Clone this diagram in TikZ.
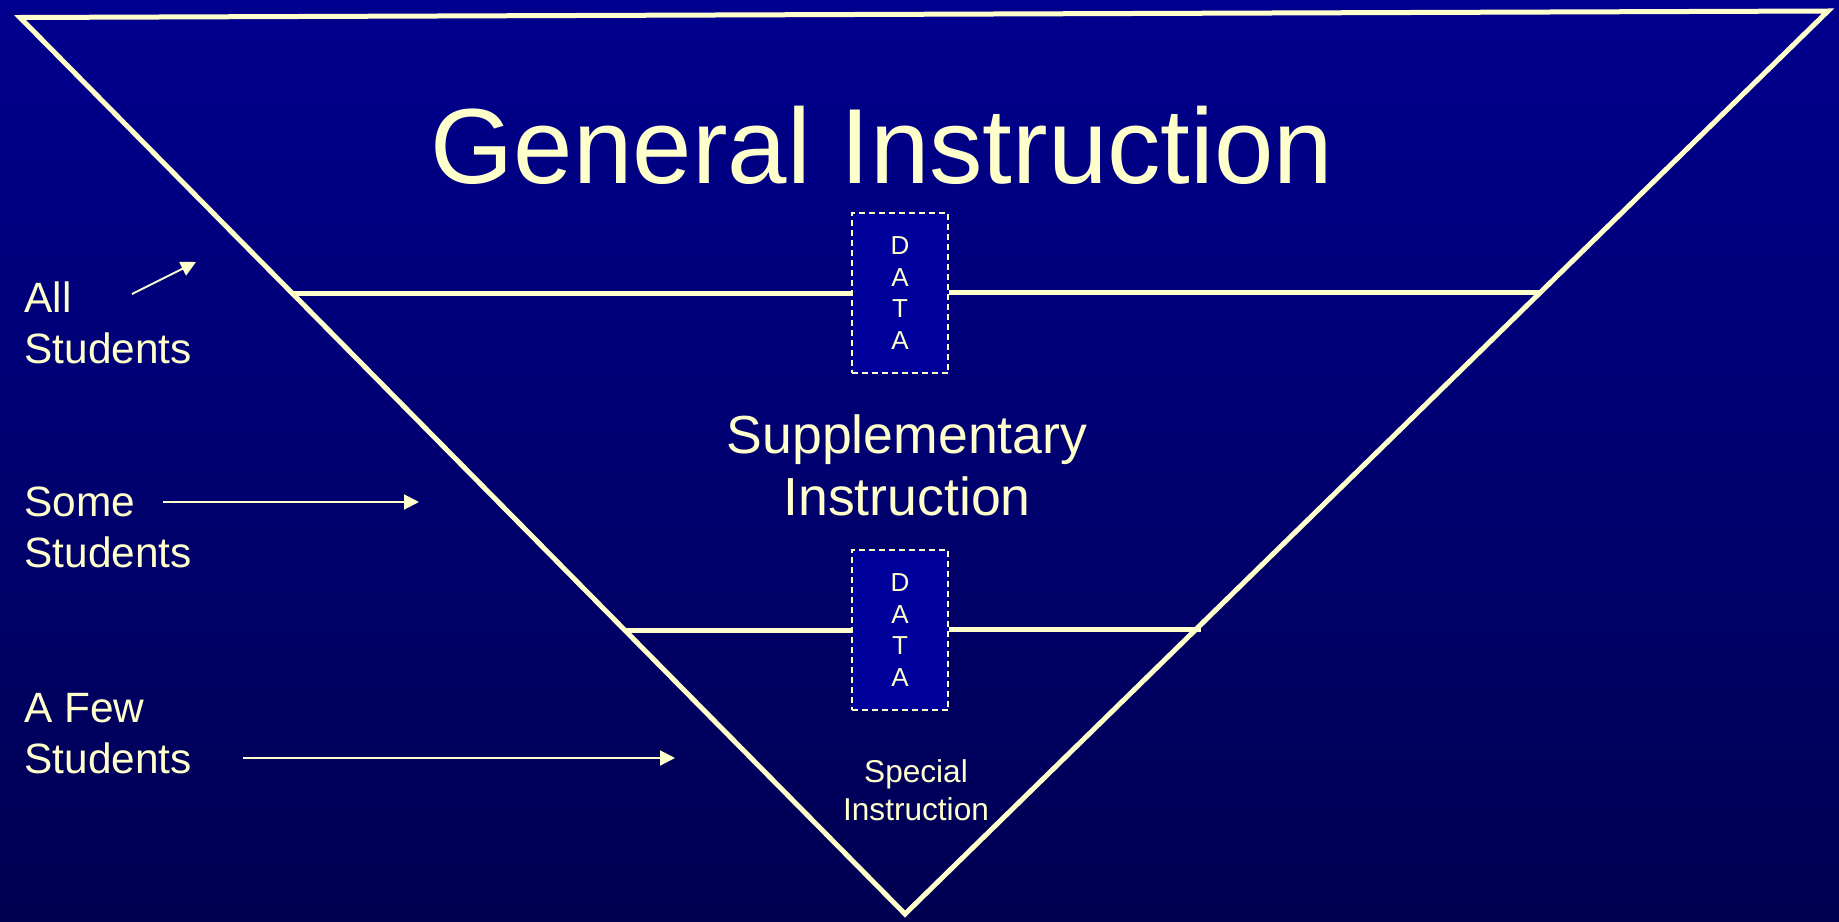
\documentclass[tikz,border=0pt]{standalone}
\usepackage{fontspec}
\setmainfont{Liberation Sans}
\usetikzlibrary{arrows.meta}
\definecolor{cream}{RGB}{255,255,204}
\definecolor{bgtop}{RGB}{0,0,142}
\definecolor{bgbot}{RGB}{0,0,82}
\definecolor{boxblue}{RGB}{0,0,155}
\begin{document}
\begin{tikzpicture}[x=0.5pt,y=-0.5pt,
  edge/.style={draw=cream,line width=2.5pt,line join=miter},
  level/.style={draw=cream,line width=2.5pt},
  databox/.style={draw=cream,fill=boxblue,dash pattern=on 3pt off 2pt,line width=1pt,
    minimum width=48.3pt,minimum height=80pt,inner sep=0pt,text=cream,align=center,
    font=\fontsize{13}{15.8}\selectfont},
  ptr/.style={draw=cream,line width=1pt,-{Triangle[length=7.5pt,width=7.5pt]}},
  lbl/.style={text=cream,align=left,anchor=base west,inner sep=0pt,
    font=\fontsize{21.2}{25.2}\selectfont},
  ctext/.style={text=cream,align=center,anchor=base,inner sep=0pt},
]
\shade[top color=bgtop,bottom color=bgbot] (0,0) rectangle (1839,921);
\useasboundingbox (0,0) rectangle (1839,921);

% triangle
\coordinate (TL) at (20,17.5);
\coordinate (TR) at (1828,11);
\coordinate (B) at (905,914);
\draw[edge] (TL) -- (TR) -- (B) -- cycle;

% level lines
\coordinate (L1) at (intersection of TL--B and 0,293--100,293);
\coordinate (R1) at (intersection of TR--B and 0,293--100,293);
\coordinate (L2) at (intersection of TL--B and 0,630--100,630);
\coordinate (R2) at (intersection of TR--B and 0,630--100,630);
\coordinate (R2x) at ([xshift=3pt]R2);

\node[databox] (D1) at (900,293) {D\\A\\T\\A};
\node[databox] (D2) at (900,630) {D\\A\\T\\A};

\draw[level] (L1) -- (L1 -| D1.west);
\draw[level] (D1.east |- R1) -- (R1);
\draw[level] (L2) -- (L2 -| D2.west);
\draw[level] (D2.east |- R2x) -- (R2x);

% titles
\node[ctext,font=\fontsize{53.4}{60}\selectfont] (gen) at (882,183) {General Instruction};
\node[ctext,font=\fontsize{26.8}{31}\selectfont] (sup) at (907,515) {Supplementary\\Instruction};
\node[ctext,font=\fontsize{15.8}{18.7}\selectfont] (spec) at (916,820) {Special\\Instruction};

% left labels (anchor at baseline of the last line)
\node[lbl] (all) at (24,363) {All\\Students};
\node[lbl] (some) at (24,567) {Some\\Students};
\node[lbl] (few) at (24,773) {A Few\\Students};

% arrows
\coordinate (a1s) at (132,294);
\coordinate (a1e) at (196,262);
\coordinate (a2s) at (163,502);
\coordinate (a2e) at (419,502);
\coordinate (a3s) at (243,758);
\coordinate (a3e) at (675,758);
\draw[ptr] (a1s) -- (a1e);
\draw[ptr] (a2s) -- (a2e);
\draw[ptr] (a3s) -- (a3e);
\end{tikzpicture}
\end{document}
